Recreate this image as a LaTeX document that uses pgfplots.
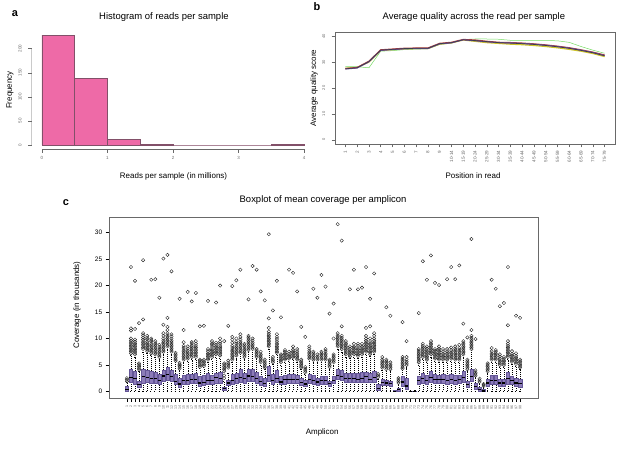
\documentclass[border=0pt]{standalone}
\usepackage{pgfplots}
\pgfplotsset{compat=1.18}
\usepgfplotslibrary{statistics}
\usepackage{fontspec}
\setmainfont{Liberation Sans}
\definecolor{histpink}{RGB}{238,106,167}
\definecolor{histedge}{RGB}{130,80,105}
\definecolor{boxpurple}{RGB}{140,124,185}
\definecolor{boxedge}{RGB}{100,86,150}
\definecolor{axgray}{RGB}{105,105,105}
\definecolor{qgreen}{RGB}{120,220,100}
\definecolor{qyellow}{RGB}{205,195,40}
\definecolor{qred}{RGB}{175,60,60}
\definecolor{qpurple}{RGB}{110,80,160}
\definecolor{qdark}{RGB}{60,60,75}
\pgfplotsset{
  every axis title shift=0pt,
  bxs/.style={black, solid, line width=0.3pt,
    mark=o, mark size=1.7pt, mark options={black!85, solid, fill=none, line width=0.4pt},
    boxplot/draw direction=y,
    boxplot/box extend=0.8,
    boxplot/whisker extend=0.4,
    boxplot/every box/.style={draw=boxedge, fill=boxpurple, solid, line width=0.3pt},
    boxplot/every whisker/.style={black, dash pattern=on 1pt off 1pt, line width=0.35pt},
    boxplot/every median/.style={black, solid, line width=1.3pt}},
}
\newcommand{\bx}[7]{\addplot[bxs, boxplot prepared={draw position=#1, lower whisker=#2, lower quartile=#3, median=#4, upper quartile=#5, upper whisker=#6}] table[row sep=\\, y index=0] {v\\#7};}
\newcommand{\bxn}[6]{\addplot[bxs, boxplot prepared={draw position=#1, lower whisker=#2, lower quartile=#3, median=#4, upper quartile=#5, upper whisker=#6}] coordinates {};}
\begin{document}
\begin{tikzpicture}
\useasboundingbox (0bp,0bp) rectangle (622bp,452bp);
% panel letters
\node[font=\fontsize{11}{12}\selectfont\bfseries] at (15bp,438bp) {a};
\node[font=\fontsize{11}{12}\selectfont\bfseries] at (317bp,445bp) {b};
\node[font=\fontsize{11}{12}\selectfont\bfseries] at (66bp,249bp) {c};
% ---------------- panel a ----------------
\begin{axis}[
  at={(31.5bp,302.6bp)}, anchor=south west, scale only axis,
  width=283bp, height=118.6bp,
  xmin=-0.16, xmax=4.16, ymin=-9.12, ymax=237.1,
  axis x line*=bottom, axis y line*=left,
  axis line style={draw=none},
  tick align=outside, major tick length=3.3bp,
  every tick/.style={axgray, line width=0.5pt},
  xtick={0,1,2,3,4}, ytick={0,50,100,150,200},
  /pgf/number format/assume math mode=true,
  tick label style={font=\fontsize{4.5}{5}\selectfont, text=axgray},
  yticklabel style={rotate=90, anchor=south},
  yticklabel shift={3pt},
  xlabel={Reads per sample (in millions)}, ylabel={Frequency},
  xlabel style={at={(axis description cs:0.502,-0.224)}, anchor=center, font=\fontsize{8}{9}\selectfont},
  ylabel style={at={(axis description cs:-0.076,0.5)}, anchor=center, rotate=0, font=\fontsize{8}{9}\selectfont},
  title={Histogram of reads per sample},
  title style={at={(axis description cs:0.468,1.112)}, anchor=center, font=\fontsize{9.5}{11}\selectfont},
]
\addplot[ybar interval, fill=histpink, draw=histedge, line width=0.5pt]
  coordinates {(0,228) (0.5,138) (1,11) (1.5,1) (2,0) (2.5,0) (3,0) (3.5,1) (4,1)};
\draw[axgray, line width=0.5pt] (axis cs:0,-9.12) -- (axis cs:4,-9.12);
\draw[axgray, line width=0.5pt] (axis cs:-0.16,0) -- (axis cs:-0.16,200);
\end{axis}
% ---------------- panel b ----------------
\begin{axis}[
  at={(335bp,308bp)}, anchor=south west, scale only axis,
  width=280bp, height=112bp,
  xmin=0.12, xmax=23.88, ymin=-1.6, ymax=41.6,
  axis line style={axgray, line width=0.5pt},
  tick align=outside, major tick length=3.3bp, tick pos=left,
  every tick/.style={axgray, line width=0.5pt},
  xtick={1,...,23}, ytick={0,10,20,30,40},
  xticklabels={1,2,3,4,5,6,7,8,9,10-14,15-19,20-24,25-29,30-34,35-39,40-44,45-49,50-54,55-59,60-64,65-69,70-74,75-79},
  /pgf/number format/assume math mode=true,
  tick label style={font=\fontsize{4.6}{5}\selectfont, text=axgray},
  yticklabel style={rotate=90, anchor=south, font=\fontsize{4}{4.5}\selectfont},
  yticklabel shift={3pt},
  xticklabel style={rotate=90, anchor=east},
  xlabel={Position in read}, ylabel={Average quality score},
  xlabel style={at={(axis description cs:0.493,-0.286)}, anchor=center, font=\fontsize{8}{9}\selectfont},
  ylabel style={at={(axis description cs:-0.075,0.5)}, anchor=center, rotate=0, font=\fontsize{8}{9}\selectfont},
  title={Average quality across the read per sample},
  title style={at={(axis description cs:0.496,1.129)}, anchor=center, font=\fontsize{9.5}{11}\selectfont},
]
\addplot[qgreen, line width=0.5pt] coordinates {(1,28.2)(2,28.2)(3,27.8)(4,34.2)(5,34.4)(6,34.8)(7,35.0)(8,35.1)(9,36.8)(10,37.3)(11,38.7)(12,38.9)(13,38.9)(14,38.8)(15,38.4)(16,38.3)(17,38.3)(18,38.3)(19,38.2)(20,37.6)(21,36.0)(22,34.6)(23,33.4)};
\addplot[qyellow, line width=1.2pt] coordinates {(1,27.6)(2,27.9)(3,30.0)(4,34.5)(5,34.8)(6,35.1)(7,35.2)(8,35.2)(9,36.9)(10,37.4)(11,38.5)(12,38.0)(13,37.5)(14,37.2)(15,36.9)(16,36.7)(17,36.4)(18,36.0)(19,35.5)(20,34.9)(21,34.2)(22,33.3)(23,32.1)};
\addplot[qred, line width=1.3pt] coordinates {(1,27.5)(2,27.9)(3,30.3)(4,34.7)(5,35.0)(6,35.3)(7,35.4)(8,35.4)(9,37.2)(10,37.6)(11,38.7)(12,38.5)(13,38.0)(14,37.6)(15,37.5)(16,37.3)(17,37.0)(18,36.6)(19,36.1)(20,35.5)(21,34.7)(22,33.8)(23,32.7)};
\addplot[qpurple, line width=1.0pt] coordinates {(1,27.3)(2,27.7)(3,30.1)(4,34.5)(5,34.8)(6,35.1)(7,35.2)(8,35.2)(9,37.0)(10,37.4)(11,38.6)(12,38.2)(13,37.8)(14,37.5)(15,37.4)(16,37.2)(17,36.9)(18,36.5)(19,36.0)(20,35.4)(21,34.6)(22,33.7)(23,32.5)};
\addplot[qdark, line width=0.7pt] coordinates {(1,27.4)(2,27.8)(3,30.2)(4,34.6)(5,34.9)(6,35.2)(7,35.3)(8,35.3)(9,37.1)(10,37.5)(11,38.6)(12,38.3)(13,37.9)(14,37.5)(15,37.3)(16,37.1)(17,36.8)(18,36.4)(19,35.9)(20,35.3)(21,34.5)(22,33.6)(23,32.4)};
\end{axis}
% ---------------- panel c ----------------
\begin{axis}[
  at={(109bp,53.7bp)}, anchor=south west, scale only axis,
  width=429bp, height=181bp,
  xmin=-3.42, xmax=102.42, ymin=-1.3, ymax=32.9,
  axis line style={axgray, line width=0.6pt},
  tick align=outside, major tick length=3.3bp, tick pos=left,
  every tick/.style={black, line width=0.4pt},
  xtick={1,...,98}, ytick={0,5,10,15,20,25,30},
  /pgf/number format/assume math mode=true,
  yticklabel style={font=\fontsize{6.5}{7}\selectfont},
  xticklabel style={font=\fontsize{3.6}{4}\selectfont, rotate=90, anchor=east, text=axgray},
  xlabel={Amplicon}, ylabel={Coverage (in thousands)},
  xlabel style={at={(axis description cs:0.497,-0.186)}, anchor=center, font=\fontsize{8}{9}\selectfont},
  ylabel style={at={(axis description cs:-0.0746,0.515)}, anchor=center, rotate=0, font=\fontsize{8}{9}\selectfont},
  title={Boxplot of mean coverage per amplicon},
  title style={at={(axis description cs:0.499,1.093)}, anchor=center, font=\fontsize{9.5}{11}\selectfont},
]
\bx{1}{0}{0.1}{0.4}{1.0}{1.7}{1.9\\2.2\\2.5\\}
\bx{2}{0}{1.7}{2.6}{4.2}{6.8}{7.2\\7.5\\7.8\\8.1\\8.4\\8.7\\9.0\\9.3\\9.6\\10.0\\11.5\\11.9\\23.5\\}
\bx{3}{0}{1.4}{2.4}{3.8}{6.5}{7.0\\7.3\\7.6\\7.9\\8.2\\8.5\\8.8\\9.1\\9.4\\9.8\\11.8\\20.9\\}
\bx{4}{0}{0.9}{1.3}{1.9}{3.8}{4.1\\4.4\\4.7\\5.0\\5.3\\12.9\\}
\bx{5}{0}{1.6}{2.8}{4.3}{7.5}{8.0\\8.3\\8.6\\8.9\\9.2\\9.5\\9.8\\10.2\\10.6\\11.0\\13.6\\24.8\\}
\bx{6}{0}{1.7}{2.6}{4.0}{7.2}{7.6\\7.9\\8.2\\8.5\\8.8\\9.1\\9.4\\9.8\\10.1\\10.5\\}
\bx{7}{0}{1.5}{2.5}{3.8}{6.8}{7.2\\7.5\\7.8\\8.1\\8.4\\8.7\\9.0\\9.4\\9.7\\10.0\\21.1\\}
\bx{8}{0}{1.5}{2.4}{3.6}{6.5}{7.0\\7.3\\7.6\\7.9\\8.2\\8.5\\8.8\\9.1\\9.5\\21.2\\}
\bx{9}{0}{1.3}{2.0}{3.3}{6.0}{6.5\\6.8\\7.1\\7.4\\7.7\\8.0\\8.4\\8.8\\17.7\\}
\bx{10}{0}{1.9}{2.9}{4.0}{7.0}{7.5\\7.8\\8.1\\8.4\\8.7\\9.0\\9.3\\9.6\\10.0\\10.5\\11.0\\12.6\\25.1\\}
\bx{11}{0}{2.2}{3.2}{4.6}{8.0}{8.5\\8.8\\9.1\\9.4\\9.7\\10.0\\10.3\\10.6\\11.0\\11.6\\12.2\\13.9\\25.8\\}
\bx{12}{0}{2.0}{2.8}{4.1}{7.0}{7.5\\7.8\\8.1\\8.4\\8.7\\9.0\\9.3\\9.6\\10.0\\10.4\\10.8\\22.7\\}
\bx{13}{0}{1.3}{1.9}{3.2}{5.5}{5.8\\6.1\\6.4\\6.7\\7.0\\7.3\\}
\bx{14}{0}{0.9}{1.4}{2.6}{4.0}{4.3\\4.6\\4.9\\5.1\\5.4\\17.5\\}
\bx{15}{0}{1.4}{2.0}{3.0}{5.5}{6.0\\6.3\\6.6\\6.9\\7.2\\7.5\\7.8\\8.2\\8.6\\9.3\\11.6\\}
\bx{16}{0}{1.4}{2.1}{3.2}{5.8}{6.2\\6.5\\6.8\\7.1\\7.4\\7.7\\8.1\\8.5\\18.8\\}
\bx{17}{0}{1.5}{2.2}{3.3}{6.0}{6.5\\6.8\\7.1\\7.4\\7.7\\8.0\\8.3\\8.6\\9.0\\9.3\\17.0\\}
\bx{18}{0}{1.5}{2.2}{3.4}{6.0}{6.5\\6.8\\7.1\\7.4\\7.7\\8.0\\8.3\\8.6\\9.0\\9.5\\18.6\\}
\bx{19}{0}{1.0}{1.6}{2.8}{4.3}{4.6\\4.9\\5.2\\5.5\\5.8\\6.0\\12.3\\}
\bx{20}{0}{1.2}{1.7}{3.0}{4.5}{4.8\\5.1\\5.4\\5.7\\6.0\\12.4\\}
\bx{21}{0}{1.4}{2.1}{3.4}{5.6}{6.0\\6.3\\6.6\\6.9\\7.2\\7.6\\8.0\\17.1\\}
\bx{22}{0}{1.3}{2.0}{3.0}{6.0}{6.5\\6.8\\7.1\\7.4\\7.7\\8.0\\8.4\\8.8\\9.1\\9.5\\}
\bx{23}{0}{1.6}{2.6}{3.5}{6.5}{7.0\\7.3\\7.6\\7.9\\8.2\\8.5\\8.8\\9.2\\16.8\\}
\bx{24}{0}{1.5}{2.4}{3.7}{6.2}{6.8\\7.1\\7.4\\7.7\\8.0\\8.3\\8.6\\9.0\\9.4\\10.0\\20.0\\}
\bx{25}{0}{0.2}{0.5}{0.9}{1.9}{2.5\\3.0\\3.8\\4.1\\4.4\\4.7\\5.0\\5.3\\9.5\\}
\bx{26}{0}{1.1}{1.6}{2.1}{3.5}{4.5\\4.8\\5.1\\5.4\\5.8\\12.4\\}
\bx{27}{0}{1.4}{2.0}{3.2}{5.6}{6.0\\6.3\\6.6\\6.9\\7.2\\7.5\\7.8\\8.2\\8.6\\9.2\\9.8\\10.3\\19.9\\}
\bx{28}{0}{1.6}{2.4}{3.5}{6.2}{6.8\\7.1\\7.4\\7.7\\8.0\\8.3\\8.6\\9.0\\9.4\\10.0\\21.0\\}
\bx{29}{0}{1.8}{2.6}{4.3}{7.0}{7.3\\7.6\\7.9\\8.2\\8.5\\8.8\\9.1\\9.4\\9.8\\10.3\\10.8\\23.0\\}
\bx{30}{0}{1.6}{2.4}{3.5}{6.0}{6.5\\6.8\\7.1\\7.4\\7.7\\8.0\\8.4\\8.7\\9.0\\}
\bx{31}{0}{2.0}{2.9}{4.2}{7.4}{7.8\\8.1\\8.4\\8.7\\9.0\\9.3\\9.6\\9.9\\10.2\\10.5\\17.4\\}
\bx{32}{0}{2.0}{2.8}{4.2}{7.5}{8.0\\8.3\\8.6\\8.9\\9.2\\9.6\\10.0\\23.7\\}
\bx{33}{0}{1.6}{2.4}{3.6}{6.2}{6.5\\6.8\\7.1\\7.4\\7.7\\8.0\\23.0\\}
\bx{34}{0}{1.2}{1.9}{2.8}{5.0}{5.5\\5.8\\6.1\\6.4\\6.7\\7.0\\7.5\\18.9\\}
\bx{35}{0}{1.0}{1.5}{2.6}{4.2}{4.5\\4.8\\5.1\\5.4\\5.7\\6.0\\17.2\\}
\bx{36}{0}{2.0}{3.0}{4.8}{8.0}{8.5\\8.8\\9.1\\9.4\\9.7\\10.0\\10.3\\10.6\\10.9\\11.3\\12.0\\13.8\\29.7\\}
\bx{37}{0}{1.3}{2.0}{3.2}{5.2}{5.5\\5.8\\6.1\\6.5\\15.3\\}
\bx{38}{0}{1.7}{2.5}{4.0}{7.0}{7.3\\7.6\\7.9\\8.2\\8.5\\8.8\\9.1\\9.5\\9.9\\10.3\\10.8\\20.9\\}
\bx{39}{0}{1.3}{1.8}{2.8}{5.0}{5.5\\5.8\\6.1\\6.4\\6.7\\7.0\\14.0\\}
\bx{40}{0}{1.4}{2.2}{3.0}{5.6}{6.0\\6.3\\6.6\\6.9\\7.2\\7.5\\7.8\\}
\bx{41}{0}{1.5}{2.3}{3.2}{5.8}{6.2\\6.5\\6.8\\7.1\\7.5\\23.0\\}
\bx{42}{0}{1.5}{2.3}{3.2}{6.0}{6.4\\6.7\\7.0\\7.3\\7.6\\7.9\\8.5\\22.4\\}
\bx{43}{0}{1.5}{2.2}{3.1}{5.6}{6.0\\6.3\\6.6\\6.9\\7.2\\7.6\\8.0\\18.9\\}
\bx{44}{0}{1.2}{1.7}{2.6}{4.2}{4.5\\4.8\\5.1\\5.4\\5.7\\6.0\\12.2\\}
\bx{45}{0}{1.0}{1.4}{2.2}{3.3}{3.6\\3.9\\4.2\\4.6\\10.3\\}
\bx{46}{0}{1.5}{2.3}{3.3}{5.8}{6.2\\6.5\\6.8\\7.1\\7.4\\7.7\\8.1\\8.5\\}
\bx{47}{0}{1.4}{2.0}{3.0}{5.6}{6.0\\6.3\\6.6\\6.9\\7.2\\7.5\\19.4\\}
\bx{48}{0}{1.2}{1.8}{2.6}{5.6}{6.0\\6.3\\6.6\\7.0\\17.7\\}
\bx{49}{0}{1.4}{2.0}{2.8}{5.5}{6.0\\6.3\\6.6\\6.9\\7.2\\7.5\\22.0\\}
\bx{50}{0}{1.4}{2.0}{2.8}{5.5}{6.0\\6.3\\6.6\\6.9\\7.2\\7.6\\8.0\\19.8\\}
\bx{51}{0}{1.0}{1.5}{2.0}{4.2}{4.6\\4.9\\5.2\\5.5\\5.8\\6.0\\14.7\\}
\bx{52}{0}{1.5}{2.0}{2.8}{5.0}{5.5\\5.8\\6.1\\6.4\\6.7\\7.0\\10.0\\16.6\\}
\bx{53}{0}{2.3}{3.0}{4.2}{8.0}{8.5\\8.8\\9.1\\9.4\\9.7\\10.0\\10.3\\10.6\\11.0\\31.6\\}
\bx{54}{0}{2.2}{2.8}{4.0}{7.5}{8.0\\8.3\\8.6\\8.9\\9.2\\9.5\\9.8\\10.1\\10.5\\12.3\\28.5\\}
\bx{55}{0}{1.8}{2.4}{3.4}{6.5}{7.0\\7.3\\7.6\\7.9\\8.2\\8.5\\8.8\\9.1\\9.5\\}
\bx{56}{0}{1.7}{2.4}{3.4}{6.3}{6.6\\6.9\\7.2\\7.5\\7.8\\8.1\\8.5\\19.3\\}
\bx{57}{0}{1.8}{2.5}{3.5}{6.5}{7.0\\7.3\\7.6\\7.9\\8.2\\8.5\\9.0\\23.0\\}
\bx{58}{0}{1.7}{2.3}{3.4}{6.3}{6.7\\7.0\\7.3\\7.6\\7.9\\8.2\\8.6\\9.0\\19.3\\}
\bx{59}{0}{1.8}{2.5}{3.6}{6.5}{7.0\\7.3\\7.6\\7.9\\8.2\\8.5\\9.0\\19.6\\}
\bx{60}{0}{1.8}{2.8}{3.7}{7.0}{7.5\\7.8\\8.1\\8.4\\8.7\\9.0\\9.3\\9.6\\10.0\\10.5\\12.0\\23.5\\}
\bx{61}{0}{1.8}{2.3}{3.5}{6.6}{7.0\\7.3\\7.6\\7.9\\8.2\\8.5\\8.8\\9.1\\9.5\\10.0\\12.3\\17.5\\}
\bx{62}{0}{1.8}{2.6}{3.8}{7.0}{7.5\\7.8\\8.1\\8.4\\8.7\\9.0\\9.3\\9.6\\10.0\\10.5\\11.0\\22.3\\}
\bx{63}{0}{0.3}{0.6}{1.4}{2.4}{2.7\\3.0\\3.3\\}
\bx{64}{0}{1.1}{1.7}{2.4}{4.0}{4.5\\4.8\\5.1\\5.4\\5.7\\6.0\\6.5\\}
\bx{65}{0}{1.1}{1.6}{2.2}{3.8}{4.2\\4.5\\4.8\\5.1\\5.4\\5.7\\6.0\\15.9\\}
\bx{66}{0}{1.0}{1.5}{2.0}{3.8}{4.2\\4.5\\4.8\\5.1\\5.5\\14.3\\}
\bxn{67}{0}{0.02}{0.05}{0.15}{0.3}
\bx{68}{0}{0.1}{0.3}{0.7}{1.3}{1.6\\1.9\\2.2\\2.5\\}
\bx{69}{0}{1.0}{1.8}{2.8}{4.0}{4.3\\4.6\\4.9\\5.2\\5.5\\5.8\\6.1\\6.5\\13.1\\}
\bx{70}{0}{0.5}{1.0}{2.5}{4.5}{5.0\\5.3\\5.6\\6.0\\6.5\\9.5\\}
\bxn{71}{0}{0.02}{0.05}{0.1}{0.2}
\bxn{72}{0}{0.02}{0.05}{0.1}{0.2}
\bx{73}{0}{1.4}{2.0}{2.8}{5.0}{5.5\\5.8\\6.1\\6.4\\6.7\\7.0\\7.3\\7.6\\8.0\\14.8\\}
\bx{74}{0}{1.6}{2.4}{3.5}{6.0}{6.5\\6.8\\7.1\\7.4\\7.7\\8.0\\8.3\\8.6\\9.0\\24.6\\}
\bx{75}{0}{1.4}{2.0}{3.0}{5.5}{6.0\\6.3\\6.6\\6.9\\7.2\\7.5\\7.8\\8.1\\8.5\\21.1\\}
\bx{76}{0}{1.8}{2.6}{3.8}{6.5}{7.0\\7.3\\7.6\\7.9\\8.2\\8.5\\8.8\\9.1\\9.5\\25.7\\}
\bx{77}{0}{1.6}{2.2}{3.2}{5.8}{6.2\\6.5\\6.8\\7.1\\7.4\\7.7\\8.0\\20.5\\}
\bx{78}{0}{1.5}{2.2}{3.1}{5.6}{6.0\\6.3\\6.6\\6.9\\7.2\\7.5\\7.8\\8.1\\8.5\\20.1\\}
\bx{79}{0}{1.5}{2.2}{3.2}{5.5}{6.0\\6.3\\6.6\\6.9\\7.2\\7.6\\8.0\\}
\bx{80}{0}{1.4}{2.1}{3.0}{5.5}{6.0\\6.3\\6.6\\6.9\\7.2\\7.6\\8.0\\21.2\\}
\bx{81}{0}{1.5}{2.2}{3.2}{5.8}{6.2\\6.5\\6.8\\7.1\\7.4\\7.8\\8.3\\23.5\\}
\bx{82}{0}{1.4}{2.1}{3.0}{5.6}{6.0\\6.3\\6.6\\6.9\\7.2\\7.5\\7.8\\8.1\\8.5\\21.2\\}
\bx{83}{0}{1.5}{2.2}{3.0}{5.6}{6.0\\6.3\\6.6\\6.9\\7.2\\7.5\\7.8\\8.2\\8.8\\23.8\\}
\bx{84}{0}{1.8}{2.6}{3.8}{6.5}{7.0\\7.3\\7.6\\7.9\\8.2\\8.5\\8.8\\9.1\\9.5\\12.8\\}
\bx{85}{0}{0.8}{1.3}{2.0}{3.8}{4.2\\4.5\\4.8\\5.1\\5.4\\5.7\\6.0\\10.2\\}
\bx{86}{0}{2.0}{2.8}{4.2}{7.5}{8.0\\8.3\\8.6\\8.9\\9.2\\9.5\\9.8\\10.1\\10.5\\11.6\\28.8\\}
\bx{87}{0}{0.5}{0.9}{1.5}{2.6}{3.0\\3.3\\3.6\\4.0\\9.9\\}
\bx{88}{0}{0.1}{0.4}{0.9}{1.5}{1.8\\2.1\\2.4\\}
\bx{89}{0}{0.02}{0.1}{0.4}{0.8}{1.0\\1.2\\1.4\\}
\bx{90}{0}{1.0}{1.6}{2.4}{3.5}{3.8\\4.1\\4.4\\4.7\\5.0\\5.3\\}
\bx{91}{0}{1.3}{2.0}{3.0}{5.5}{6.0\\6.3\\6.6\\6.9\\7.2\\7.6\\8.2\\21.1\\}
\bx{92}{0}{1.3}{2.0}{3.0}{5.5}{6.0\\6.3\\6.6\\6.9\\7.2\\7.5\\7.8\\19.4\\}
\bx{93}{0}{1.0}{1.6}{2.4}{4.6}{5.0\\5.3\\5.6\\5.9\\6.2\\6.6\\7.0\\16.1\\}
\bx{94}{0}{1.0}{1.6}{2.4}{4.6}{5.0\\5.3\\5.6\\5.9\\6.2\\6.5\\16.7\\}
\bx{95}{0}{1.4}{2.4}{3.6}{6.0}{6.5\\6.8\\7.1\\7.4\\7.7\\8.0\\8.3\\8.6\\9.0\\9.5\\12.5\\23.5\\}
\bx{96}{0}{1.3}{2.0}{2.8}{5.2}{5.6\\5.9\\6.2\\6.5\\6.8\\7.1\\7.6\\}
\bx{97}{0}{1.0}{1.6}{2.6}{4.8}{5.2\\5.5\\5.8\\6.1\\6.4\\6.7\\7.2\\14.3\\}
\bx{98}{0}{0.9}{1.5}{2.3}{4.2}{4.5\\4.8\\5.1\\5.4\\5.7\\6.0\\13.9\\}
\end{axis}
\end{tikzpicture}
\end{document}
